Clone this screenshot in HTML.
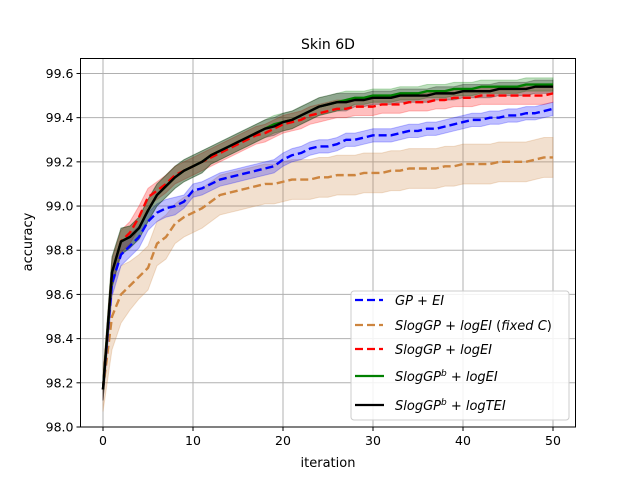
<!DOCTYPE html>
<html><head><meta charset="utf-8"><style>
body{margin:0;background:#fff}
svg{font-family:"DejaVu Sans","Liberation Sans",sans-serif}
</style></head><body>
<svg id="chart" width="640" height="480" viewBox="0 0 640 480" xmlns="http://www.w3.org/2000/svg">
<rect width="640" height="480" fill="#fff"/>
<g id="grid"></g>
<g id="bands"></g>
<g id="lines"></g>
<rect x="80.5" y="58.5" width="495" height="368.5" fill="none" stroke="#000" stroke-width="1"/>
<g id="ticks"></g>
<text x="328" y="49" font-size="14" text-anchor="middle">Skin 6D</text>
<text x="328" y="467" font-size="13" text-anchor="middle">iteration</text>
<text transform="translate(32,242) rotate(-90)" font-size="13" text-anchor="middle">accuracy</text>
<g>
<rect x="351" y="291" width="218" height="129" rx="3" fill="#fff" fill-opacity="0.85" stroke="#ccc"/>
<g font-size="13" font-style="italic">
<line x1="355" y1="300" x2="383" y2="300" stroke="#0000ff" stroke-width="2.2" stroke-dasharray="8,4"/>
<text x="395" y="305">GP + EI</text>
<line x1="355" y1="325" x2="383" y2="325" stroke="#cd853f" stroke-width="2.2" stroke-dasharray="8,4"/>
<text x="395" y="330">SlogGP + logEI  <tspan font-style="normal">(</tspan>fixed C<tspan font-style="normal">)</tspan></text>
<line x1="355" y1="349" x2="383" y2="349" stroke="#ff0000" stroke-width="2.2" stroke-dasharray="8,4"/>
<text x="395" y="354">SlogGP + logEI</text>
<line x1="355" y1="376" x2="384" y2="376" stroke="#008000" stroke-width="2.2"/>
<text x="395" y="381">SlogGP<tspan dy="-5" font-size="9">b</tspan><tspan dy="5"> + logEI</tspan></text>
<line x1="355" y1="405" x2="384" y2="405" stroke="#000" stroke-width="2.2"/>
<text x="395" y="410">SlogGP<tspan dy="-5" font-size="9">b</tspan><tspan dy="5"> + logTEI</tspan></text>
</g></g>
</svg>
<script>
const xTicks=[0,10,20,30,40,50];
const yTicks=[98.0,98.2,98.4,98.6,98.8,99.0,99.2,99.4,99.6];
const gpEI=[98.17,98.65,98.78,98.82,98.86,98.93,98.97,98.99,99.0,99.02,99.07,99.08,99.1,99.12,99.13,99.14,99.15,99.16,99.17,99.18,99.21,99.23,99.24,99.26,99.27,99.27,99.28,99.3,99.3,99.31,99.32,99.32,99.32,99.33,99.34,99.34,99.35,99.35,99.36,99.37,99.38,99.39,99.39,99.4,99.4,99.41,99.41,99.42,99.42,99.43,99.44];
const gpEIStd=[0.05,0.06,0.05,0.05,0.05,0.04,0.04,0.04,0.04,0.03,0.03,0.03,0.03,0.03,0.03,0.03,0.03,0.03,0.03,0.03,0.03,0.03,0.03,0.03,0.03,0.03,0.03,0.03,0.03,0.03,0.03,0.03,0.03,0.03,0.03,0.03,0.03,0.03,0.03,0.03,0.03,0.03,0.03,0.03,0.03,0.03,0.03,0.03,0.03,0.03,0.03];
const fixedC=[98.17,98.5,98.6,98.64,98.68,98.72,98.83,98.86,98.92,98.95,98.97,98.99,99.02,99.05,99.06,99.07,99.08,99.09,99.1,99.1,99.11,99.12,99.12,99.12,99.13,99.13,99.14,99.14,99.14,99.15,99.15,99.15,99.16,99.16,99.17,99.17,99.17,99.17,99.18,99.18,99.19,99.19,99.19,99.19,99.2,99.2,99.2,99.2,99.21,99.22,99.22];
const fixedCStd=[0.1,0.15,0.13,0.11,0.1,0.1,0.1,0.1,0.09,0.09,0.09,0.09,0.09,0.09,0.09,0.09,0.09,0.09,0.09,0.09,0.09,0.09,0.09,0.09,0.09,0.09,0.09,0.09,0.09,0.09,0.09,0.09,0.09,0.09,0.09,0.09,0.09,0.09,0.09,0.09,0.09,0.09,0.09,0.09,0.09,0.09,0.09,0.09,0.09,0.09,0.09];
const slogEI=[98.17,98.7,98.84,98.88,98.95,99.04,99.07,99.1,99.14,99.16,99.18,99.2,99.22,99.24,99.26,99.28,99.3,99.32,99.33,99.35,99.37,99.38,99.39,99.41,99.42,99.43,99.44,99.44,99.45,99.45,99.45,99.46,99.46,99.46,99.47,99.47,99.47,99.48,99.48,99.49,99.49,99.49,99.5,99.5,99.5,99.5,99.5,99.5,99.5,99.5,99.51];
const slogEIStd=[0.05,0.06,0.05,0.05,0.05,0.04,0.04,0.04,0.04,0.04,0.04,0.04,0.04,0.04,0.04,0.04,0.04,0.04,0.04,0.04,0.04,0.04,0.04,0.04,0.04,0.04,0.04,0.04,0.04,0.04,0.04,0.04,0.04,0.04,0.04,0.04,0.04,0.04,0.04,0.04,0.04,0.04,0.04,0.04,0.04,0.04,0.04,0.04,0.04,0.04,0.04];
const bEI=[98.17,98.7,98.84,98.86,98.9,98.98,99.05,99.09,99.13,99.16,99.18,99.2,99.23,99.25,99.27,99.29,99.31,99.33,99.35,99.37,99.38,99.39,99.41,99.43,99.45,99.46,99.47,99.48,99.49,99.49,99.5,99.5,99.5,99.51,99.51,99.51,99.52,99.52,99.52,99.53,99.53,99.53,99.54,99.54,99.54,99.54,99.54,99.55,99.55,99.55,99.55];
const bEIStd=[0.05,0.07,0.06,0.05,0.05,0.05,0.05,0.05,0.05,0.05,0.05,0.05,0.04,0.04,0.04,0.04,0.04,0.04,0.04,0.04,0.04,0.04,0.04,0.04,0.04,0.04,0.04,0.04,0.03,0.03,0.03,0.03,0.03,0.03,0.03,0.03,0.03,0.03,0.03,0.03,0.03,0.03,0.03,0.03,0.03,0.03,0.03,0.03,0.03,0.03,0.03];
const bTEI=[98.17,98.7,98.84,98.86,98.9,98.98,99.05,99.09,99.13,99.16,99.18,99.2,99.23,99.25,99.27,99.29,99.31,99.33,99.35,99.36,99.38,99.39,99.41,99.43,99.45,99.46,99.47,99.47,99.48,99.48,99.49,99.49,99.49,99.5,99.5,99.5,99.5,99.51,99.51,99.51,99.52,99.52,99.52,99.52,99.53,99.53,99.53,99.53,99.54,99.54,99.54];
const bTEIStd=[0.05,0.07,0.06,0.05,0.05,0.05,0.05,0.05,0.05,0.05,0.05,0.05,0.04,0.04,0.04,0.04,0.04,0.04,0.04,0.04,0.04,0.04,0.04,0.04,0.04,0.04,0.04,0.04,0.03,0.03,0.03,0.03,0.03,0.03,0.03,0.03,0.03,0.03,0.03,0.03,0.03,0.03,0.03,0.03,0.03,0.03,0.03,0.03,0.03,0.03,0.03];

const NS="http://www.w3.org/2000/svg";
const X0=80.5,X1=575.5,Y0=427,Y1=58.5;
const xMin=-2.5,xMax=52.5,yMin=98.0,yMax=99.6+15/221.25;
const sx=v=>X0+(v-xMin)/(xMax-xMin)*(X1-X0);
const sy=v=>Y0-(v-yMin)/(yMax-yMin)*(Y0-Y1);
function mk(tag,attrs,parent){const e=document.createElementNS(NS,tag);for(const k in attrs)e.setAttribute(k,attrs[k]);parent.appendChild(e);return e;}
const grid=document.getElementById('grid'),ticks=document.getElementById('ticks'),bands=document.getElementById('bands'),lines=document.getElementById('lines');
xTicks.forEach(t=>{
 const x=sx(t);
 const g=mk('line',{x1:x,x2:x,y1:Y1,y2:Y0,stroke:'#b0b0b0','stroke-width':1},grid);
 
 
 const tk=mk('line',{x1:x,x2:x,y1:Y0,y2:Y0+4,stroke:'#000'},ticks);
 
 
 const tx=mk('text',{x:x,y:Y0+18,'font-size':12.5,'text-anchor':'middle'},ticks);
 tx.textContent=t;
 
 
});
yTicks.forEach(t=>{
 const y=sy(t);
 const g=mk('line',{x1:X0,x2:X1,y1:y,y2:y,stroke:'#b0b0b0','stroke-width':1},grid);
 
 
 const tk=mk('line',{x1:X0-4,x2:X0,y1:y,y2:y,stroke:'#000'},ticks);
 
 
 const tx=mk('text',{x:X0-7,y:y+4.5,'font-size':12.5,'text-anchor':'end'},ticks);
 tx.textContent=t.toFixed(1);
 
 
});
const series=[
 {m:fixedC,s:fixedCStd,c:'#cd853f',dash:true,n:'sloggp-logei-fixed'},
 {m:gpEI,s:gpEIStd,c:'#0000ff',dash:true,n:'gp-ei'},
 {m:slogEI,s:slogEIStd,c:'#ff0000',dash:true,n:'sloggp-logei'},
 {m:bEI,s:bEIStd,c:'#008000',dash:false,n:'sloggpb-logei'},
 {m:bTEI,s:bTEIStd,c:'#000000',dash:false,n:'sloggpb-logtei'}
];
series.forEach(S=>{
 let up=[],lo=[];
 S.m.forEach((v,i)=>{up.push(sx(i)+','+sy(v+S.s[i]));lo.unshift(sx(i)+','+sy(v-S.s[i]));});
 const b=mk('polygon',{points:up.concat(lo).join(' '),fill:S.c,'fill-opacity':0.25,stroke:S.c,'stroke-opacity':0.25},bands);
 
 
});
series.forEach(S=>{
 const pts=S.m.map((v,i)=>sx(i)+','+sy(v)).join(' ');
 const a={points:pts,fill:'none',stroke:S.c,'stroke-width':2.4,'stroke-linejoin':'round'};
 if(S.dash)a['stroke-dasharray']='8,4';
 const l=mk('polyline',a,lines);
 
 
});
</script>
</body></html>
